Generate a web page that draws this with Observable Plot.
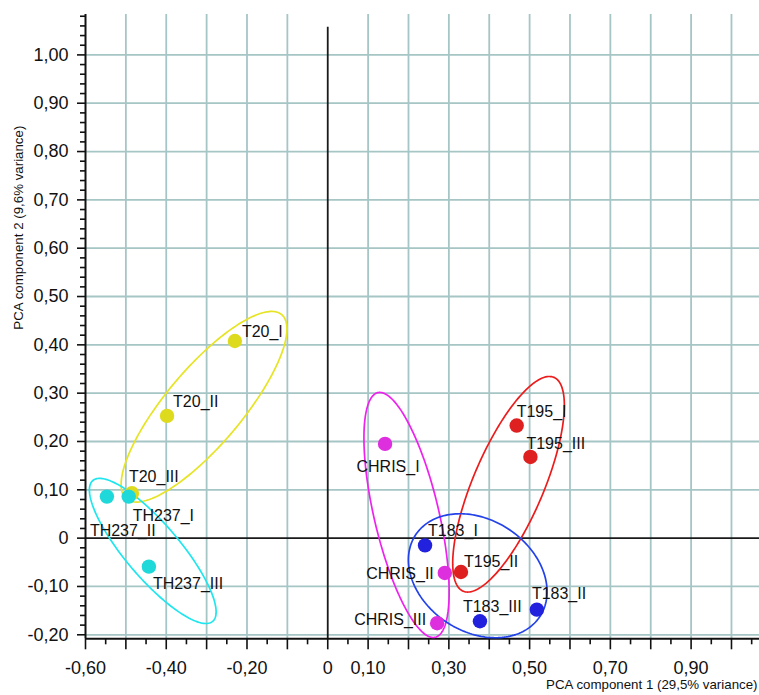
<!DOCTYPE html>
<html>
<head>
<meta charset="utf-8">
<script src="https://cdn.jsdelivr.net/npm/d3@7"></script>
<script src="https://cdn.jsdelivr.net/npm/@observablehq/plot@0.6"></script>
<style>
  html, body { margin: 0; padding: 0; background: #fff; }
  #chart svg { display: block; }
</style>
</head>
<body>
<div id="chart"></div>
<script>
// ---------- data ----------
const samples = ["T20_I","T20_II","T20_III","TH237_I","TH237_II","TH237_III","CHRIS_I","CHRIS_II","CHRIS_III","T183_I","T183_II","T183_III","T195_I","T195_II","T195_III"];
const sampleGroup = ["T20","T20","T20","TH237","TH237","TH237","CHRIS","CHRIS","CHRIS","T183","T183","T183","T195","T195","T195"];
const pc1 = [-0.230, -0.398, -0.485, -0.493, -0.547, -0.443, 0.142, 0.290, 0.271, 0.241, 0.518, 0.377, 0.468, 0.330, 0.502];
const pc2 = [0.408, 0.253, 0.093, 0.086, 0.086, -0.059, 0.195, -0.072, -0.176, -0.015, -0.148, -0.172, 0.233, -0.070, 0.168];

// group ellipses: centre and two conjugate semi-axis vectors (data units)
const ellipseGroup = ["T20","TH237","CHRIS","T195","T183"];
const ellipseCx = [-0.3064, -0.4334, 0.1952, 0.4478, 0.3715];
const ellipseCy = [0.2719, -0.0265, 0.0480, 0.1115, -0.0778];
const ellipseUx = [0.1924, 0.1484, 0.0711, 0.1124, 0.1541];
const ellipseUy = [0.1906, -0.1457, -0.2531, 0.2212, -0.0842];
const ellipseVx = [0.0718, -0.0510, -0.0780, 0.0805, -0.0758];
const ellipseVy = [-0.0507, -0.0362, -0.0153, -0.0286, -0.0968];

// axes
const xDomain = [-0.6, 1.0694];
const yDomain = [-0.2083, 1.0836];
const xMajorTicks = [-0.6,-0.5,-0.4,-0.3,-0.2,-0.1,0,0.1,0.2,0.3,0.4,0.5,0.6,0.7,0.8,0.9,1.0];
const xMinorTicks = [-0.55,-0.45,-0.35,-0.25,-0.15,-0.05,0.05,0.15,0.25,0.35,0.45,0.55,0.65,0.75,0.85,0.95,1.05];
const xTickLabels = [-0.6,-0.4,-0.2,0,0.1,0.3,0.5,0.7,0.9];
const yMajorTicks = [-0.2,-0.1,0,0.1,0.2,0.3,0.4,0.5,0.6,0.7,0.8,0.9,1.0];
const yMinorTicks = d3.range(-10, 55).map(i => i / 50).filter(v => Math.abs(Math.round(v * 10) - v * 10) > 1e-6);
const xGrid = [-0.5,-0.4,-0.3,-0.2,-0.1,0.1,0.2,0.3,0.4,0.5,0.6,0.7,0.8,0.9,1.0];
const yGrid = [-0.2,-0.1,0.1,0.2,0.3,0.4,0.5,0.6,0.7,0.8,0.9,1.0];
const zeroLineTop = 1.057;
const xTitle = "PCA component 1 (29,5% variance)";
const yTitle = "PCA component 2 (9,6% variance)";

// ---------- styles ----------
const dotColor = {T20: "#dedb1e", TH237: "#1fd8da", CHRIS: "#de2fde", T183: "#2222de", T195: "#de2020"};
const ringColor = {T20: "#e6e424", TH237: "#1fe6ee", CHRIS: "#ee22ee", T183: "#2342ea", T195: "#ec1c1c"};
const labelLayout = {
  "T20_I": ["start", 7, -9], "T20_II": ["start", 6, -14], "T20_III": ["start", -3, -16],
  "TH237_I": ["start", 4, 19], "TH237_II": ["start", -17, 34], "TH237_III": ["start", 4, 17],
  "CHRIS_I": ["middle", 3, 23], "CHRIS_II": ["end", -11, 1], "CHRIS_III": ["end", -11, -3],
  "T183_I": ["start", 3, -15], "T183_II": ["start", -5, -16], "T183_III": ["start", -17, -14],
  "T195_I": ["start", 0, -14], "T195_II": ["start", 3, -10], "T195_III": ["start", -4, -13]
};
const gridColor = "#a6c5c5";

// ---------- build ----------
const rows = samples.map((s, i) => ({sample: s, group: sampleGroup[i], pc1: pc1[i], pc2: pc2[i]}));
const fmt = v => {
  const r = Math.round(v * 100) / 100;
  return r === 0 ? "0" : r.toFixed(2).replace(".", ",");
};
const labelled = new Set(xTickLabels.map(v => Math.round(v * 100)));

const ellipseMarks = ellipseGroup.map((g, k) => {
  const pts = d3.range(0, 201).map(j => {
    const t = j / 200 * 2 * Math.PI;
    return {
      x: ellipseCx[k] + ellipseUx[k] * Math.cos(t) + ellipseVx[k] * Math.sin(t),
      y: ellipseCy[k] + ellipseUy[k] * Math.cos(t) + ellipseVy[k] * Math.sin(t)
    };
  });
  return Plot.line(pts, {x: "x", y: "y", stroke: ringColor[g], strokeWidth: 1.7, curve: "linear"});
});

const labelMarks = rows.map(r => {
  const [anchor, dx, dy] = labelLayout[r.sample];
  return Plot.text([r], {x: "pc1", y: "pc2", text: "sample", textAnchor: anchor, dx, dy,
    fontSize: 16, fill: "#111"});
});

const chart = Plot.plot({
  width: 759,
  height: 695,
  marginLeft: 85,
  marginRight: 0,
  marginTop: 14,
  marginBottom: 56.7,
  style: {fontFamily: "'Liberation Sans', Arial, Helvetica, sans-serif", color: "#111", background: "#fff"},
  x: {domain: xDomain, label: null},
  y: {domain: yDomain, label: null},
  marks: [
    Plot.ruleX(xGrid, {stroke: gridColor, strokeWidth: 1.8}),
    Plot.ruleY(yGrid, {stroke: gridColor, strokeWidth: 1.8}),
    Plot.ruleY([0], {stroke: "#1a1a1a", strokeWidth: 1.6}),
    Plot.ruleX([0], {y1: yDomain[0], y2: zeroLineTop, stroke: "#1a1a1a", strokeWidth: 1.8}),
    Plot.ruleX([xDomain[0]], {stroke: "#111", strokeWidth: 2}),
    Plot.ruleY([yDomain[0]], {stroke: "#111", strokeWidth: 2}),
    Plot.axisY(yMajorTicks, {tickSize: 8, tickPadding: 9, tickFormat: fmt, fontSize: 18, strokeWidth: 1.6, label: null}),
    Plot.axisY(yMinorTicks, {tickSize: 5, tickFormat: () => "", strokeWidth: 1.6, label: null}),
    Plot.axisX(xMajorTicks, {tickSize: 11, tickPadding: 11, fontSize: 18, strokeWidth: 1.6, label: null,
      tickFormat: v => labelled.has(Math.round(v * 100)) ? fmt(v) : ""}),
    Plot.axisX(xMinorTicks, {tickSize: 6, tickFormat: () => "", strokeWidth: 1.6, label: null}),
    ...ellipseMarks,
    Plot.dot(rows, {x: "pc1", y: "pc2", r: 7.2, fill: d => dotColor[d.group], stroke: "none"}),
    ...labelMarks,
    Plot.text([xTitle], {text: d => d, frameAnchor: "bottom-right", textAnchor: "end", dx: -2, dy: 50.5, fontSize: 13.3, fill: "#111"}),
    Plot.text([yTitle], {text: d => d, frameAnchor: "left", rotate: -90, dx: -67, dy: 3, fontSize: 13.3, fill: "#111"})
  ]
});
document.getElementById("chart").appendChild(chart);
</script>
</body>
</html>
